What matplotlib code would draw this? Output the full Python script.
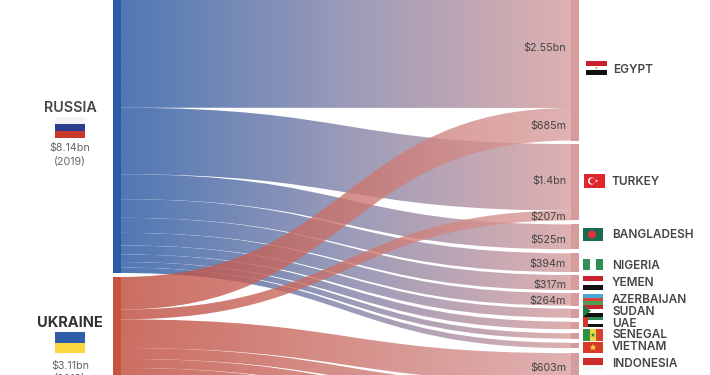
import numpy as np
import matplotlib
matplotlib.use("Agg")
import matplotlib.pyplot as plt
from matplotlib.path import Path
from matplotlib.patches import PathPatch, Rectangle, Circle, Polygon

plt.rcParams['font.family'] = ['Inter', 'DejaVu Sans']

# flows in $m, top to bottom on the left side
russia_dest = ['Egypt', 'Turkey', 'Bangladesh', 'Nigeria', 'Yemen', 'Azerbaijan',
               'Sudan', 'UAE', 'Senegal', 'Vietnam']
russia_vals = [2550, 1400, 525, 394, 317, 264, 190, 160, 115, 115]
ukraine_dest = ['Egypt', 'Turkey', 'Indonesia', 'Other1', 'Other2', 'Other3']
ukraine_vals = [685, 207, 603, 230, 190, 300]

# top to bottom on the right side, with the px gap that follows each country
right_order = ['Egypt', 'Turkey', 'Bangladesh', 'Nigeria', 'Yemen', 'Azerbaijan', 'Sudan',
               'UAE', 'Senegal', 'Vietnam', 'Indonesia', 'Other1', 'Other2', 'Other3']
right_gaps = [3.5, 4, 4, 3, 3, 3, 4, 4, 4, 5, 4, 4, 4, 4]

value_labels = ['$2.55bn', '$685m', '$1.4bn', '$207m', '$525m', '$394m', '$317m', '$264m', '$603m']
value_label_y = [48, 126, 181, 217, 240, 264, 285, 301, 368]

country_labels = ['EGYPT', 'TURKEY', 'BANGLADESH', 'NIGERIA', 'YEMEN', 'AZERBAIJAN',
                  'SUDAN', 'UAE', 'SENEGAL', 'VIETNAM', 'INDONESIA']
country_label_y = [70, 182, 235, 266, 283, 300, 312, 324, 335, 347, 364]

PX_PER_M = 0.0475
LEFT_X, RIGHT_X = 121, 571
NODE_W = 8
RUSSIA_BOTTOM = 273
UKRAINE_TOP = 277
RIGHT_TOP = 108 - 2550 * PX_PER_M

fig = plt.figure(figsize=(7.1, 3.75), dpi=100)
ax = fig.add_axes([0, 0, 1, 1])
ax.set_xlim(0, 710)
ax.set_ylim(375, 0)
ax.axis('off')


def gradient(stops, alpha):
    xs = np.linspace(0, 1, 256)
    pos = np.linspace(0, 1, len(stops))
    rgb = np.array([np.interp(xs, pos, [s[i] for s in stops]) for i in range(3)]).T
    src = (rgb - (1 - alpha) * 255) / alpha / 255
    a = np.full((256, 1), alpha)
    return np.hstack([np.clip(src, 0, 1), a])[None, :, :]


def draw_flow(y0, y1, h, grad, z):
    mx = (LEFT_X + RIGHT_X) / 2
    verts = [(LEFT_X, y0), (mx, y0), (mx, y1), (RIGHT_X, y1),
             (RIGHT_X, y1 + h), (mx, y1 + h), (mx, y0 + h), (LEFT_X, y0 + h), (LEFT_X, y0)]
    codes = [Path.MOVETO, Path.CURVE4, Path.CURVE4, Path.CURVE4,
             Path.LINETO, Path.CURVE4, Path.CURVE4, Path.CURVE4, Path.CLOSEPOLY]
    patch = PathPatch(Path(verts, codes), fc='none', ec='none', transform=ax.transData)
    ax.add_patch(patch)
    ext = (LEFT_X, RIGHT_X, min(y0, y1) + 600, min(y0, y1) - 600)
    im = ax.imshow(grad, extent=ext, aspect='auto', zorder=z, interpolation='bilinear')
    im.set_clip_path(patch)


# right side positions
right_pos = {}
y = RIGHT_TOP
for name, gap in zip(right_order, right_gaps):
    top = y
    for dest, val, side in zip(russia_dest + ukraine_dest, russia_vals + ukraine_vals,
                               ['r'] * len(russia_dest) + ['u'] * len(ukraine_dest)):
        if dest == name:
            right_pos[(side, name)] = y
            y += val * PX_PER_M
    ax.add_patch(Rectangle((RIGHT_X, top), NODE_W, y - top, fc='#d69c9b', ec='none', zorder=5))
    y += gap

blue = gradient([(80, 120, 180), (155, 155, 185), (222, 176, 176)], 1.0)
red = gradient([(204, 110, 98), (224, 178, 178)], 0.8)

y = RUSSIA_BOTTOM - sum(russia_vals) * PX_PER_M
for dest, val in zip(russia_dest, russia_vals):
    h = val * PX_PER_M
    draw_flow(y, right_pos[('r', dest)], h, blue, 2)
    y += h

y = UKRAINE_TOP
for dest, val in zip(ukraine_dest, ukraine_vals):
    h = val * PX_PER_M
    draw_flow(y, right_pos[('u', dest)], h, red, 3)
    y += h

# source nodes
ax.add_patch(Rectangle((LEFT_X - NODE_W, -150), NODE_W, RUSSIA_BOTTOM + 150, fc='#2d59a6', ec='none', zorder=5))
ax.add_patch(Rectangle((LEFT_X - NODE_W, UKRAINE_TOP), NODE_W, 120, fc='#c65440', ec='none', zorder=5))


def stripes(x, y, w, h, cols):
    n = len(cols)
    for i, c in enumerate(cols):
        ax.add_patch(Rectangle((x, y + i * h / n), w, h / n, fc=c, ec='none', zorder=6))


def star(x, y, r, c):
    ang = np.deg2rad(np.arange(0, 360, 36) - 90)
    rad = np.where(np.arange(10) % 2 == 0, r, r * 0.42)
    pts = np.c_[x + rad * np.cos(ang), y + rad * np.sin(ang)]
    ax.add_patch(Polygon(pts, fc=c, ec='none', zorder=7))


WHITE = '#ffffff'
FX, FW = 583, 20

stripes(55, 117, 30, 21, ['#f4f4f4', '#2b3f8f', '#c8392b'])
stripes(55, 332, 30, 21, ['#2f5da8', '#fad63f'])

stripes(586, 61, 21, 14, ['#c8202c', WHITE, '#111111'])
star(596.5, 68, 2, '#e0b050')

stripes(584, 174, 20.5, 14, ['#e0252c'])
ax.add_patch(Circle((591.5, 181), 3.6, fc=WHITE, ec='none', zorder=7))
ax.add_patch(Circle((592.5, 181), 2.9, fc='#e0252c', ec='none', zorder=7))
star(596.5, 181, 1.6, WHITE)

stripes(FX, 228, FW, 13, ['#1d6b4f'])
ax.add_patch(Circle((592, 234.5), 4, fc='#e0303a', ec='none', zorder=7))

ax.add_patch(Rectangle((FX, 259), 7, 11, fc='#2f8f55', ec='none', zorder=6))
ax.add_patch(Rectangle((FX + 13, 259), 7, 11, fc='#2f8f55', ec='none', zorder=6))

stripes(FX, 276, FW, 14, ['#c8202c', WHITE, '#111111'])
stripes(FX, 294, FW, 11, ['#4aa8d8', '#d8443c', '#4f9e50'])
stripes(FX, 305, FW, 12, ['#c8282c', WHITE, '#111111'])
ax.add_patch(Polygon([(FX, 305), (FX + 8, 311), (FX, 317)], fc='#1f7a45', ec='none', zorder=7))
stripes(FX, 317, FW, 10, ['#2f8f55', WHITE, '#111111'])
ax.add_patch(Rectangle((FX, 317), 5, 10, fc='#d0342c', ec='none', zorder=7))

ax.add_patch(Rectangle((FX, 329), 7, 12, fc='#2f8f45', ec='none', zorder=6))
ax.add_patch(Rectangle((FX + 7, 329), 6, 12, fc='#f2d544', ec='none', zorder=6))
ax.add_patch(Rectangle((FX + 13, 329), 7, 12, fc='#d8402e', ec='none', zorder=6))
star(593, 335, 2.5, '#2f8f45')

stripes(FX, 342, FW, 11, ['#d93a26'])
star(593, 347.5, 3.6, '#f5d63a')

stripes(FX, 358, FW, 13, ['#cc2a2a', '#f6f6f6'])

# labels
TXT = '#454545'
ax.text(70, 107.5, 'RUSSIA', ha='center', va='center', fontsize=10.3, fontweight='semibold', color=TXT, zorder=8)
ax.text(70, 323, 'UKRAINE', ha='center', va='center', fontsize=10.5, fontweight='bold', color='#333333', zorder=8)
ax.text(70, 148.5, '$8.14bn', ha='center', va='center', fontsize=7.7, color='#666666', parse_math=False)
ax.text(70, 161.5, '(2019)', ha='center', va='center', fontsize=7.7, color='#666666')
ax.text(70, 365.5, '$3.11bn', ha='center', va='center', fontsize=7.7, color='#666666', parse_math=False)
ax.text(70, 379, '(2019)', ha='center', va='center', fontsize=7.7, color='#666666', clip_on=True)

for lab, ly in zip(value_labels, value_label_y):
    ax.text(566, ly, lab, ha='right', va='center', fontsize=7.7, color='#444444', zorder=8, parse_math=False)

for lab, ly in zip(country_labels, country_label_y):
    lx = 613 if lab == 'EGYPT' else 612
    ax.text(lx, ly, lab, ha='left', va='center', fontsize=8.5, fontweight='semibold', color=TXT, zorder=8)

fig.savefig('out.png', dpi=100)
